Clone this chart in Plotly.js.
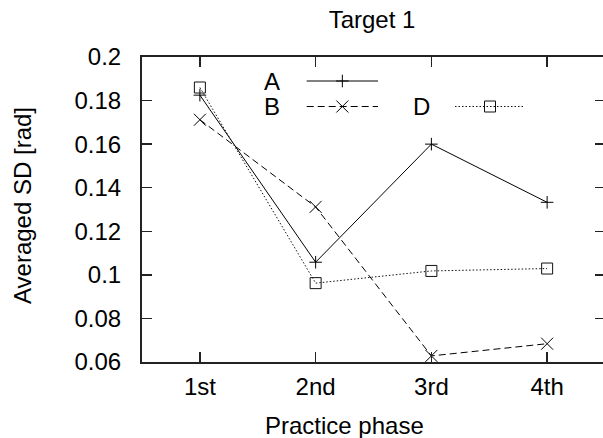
<!DOCTYPE html>
<html>
<head>
<meta charset="utf-8">
<script src="https://cdn.plot.ly/plotly-3.0.1.min.js"></script>
<style>html,body{margin:0;padding:0;background:#fff;overflow:hidden;}#chart{width:605px;height:438px;}</style>
</head>
<body>
<div id="chart"></div>
<script>
// Data
var phases = ["1st", "2nd", "3rd", "4th"];
var phaseIndex = [1, 2, 3, 4];
var seriesA = [0.1825, 0.1058, 0.1600, 0.1333];
var seriesB = [0.1712, 0.1312, 0.0628, 0.0684];
var seriesD = [0.1860, 0.0962, 0.1018, 0.1029];
var yTickVals = [0.06, 0.08, 0.1, 0.12, 0.14, 0.16, 0.18, 0.2];
var yTickText = ["0.06", "0.08", "0.1", "0.12", "0.14", "0.16", "0.18", "0.2"];
var seriesNames = ["A", "B", "D"];

var FONT = "Liberation Sans, Arial, Helvetica, sans-serif";
var PW = 463, PL = 142, PB = 362, PH = 305;
var styles = [
  {dash: "solid", symbol: "cross-thin-open", size: 9, color: "#000"},
  {dash: "7px,4px", symbol: "x-thin-open", size: 12, color: "#000"},
  {dash: "1.5px,2px", symbol: "square-open", size: 11, color: "#111"}
];
var allSeries = [seriesA, seriesB, seriesD];

var traces = allSeries.map(function (vals, i) {
  return {
    x: phaseIndex, y: vals, type: "scatter", mode: "lines+markers",
    name: seriesNames[i], showlegend: false, cliponaxis: false,
    line: {color: styles[i].color, width: 1, dash: styles[i].dash},
    marker: {symbol: styles[i].symbol, size: styles[i].size, color: styles[i].color,
             line: {color: styles[i].color, width: 1}}
  };
});

// manual gnuplot-style key (text left of sample), drawn on a hidden overlay axis
var keyPx = [
  {x0: 306.7, x1: 378, y: 81, lx: 281.5},
  {x0: 306.7, x1: 378, y: 106.5, lx: 281.5},
  {x0: 455, x1: 525, y: 106.5, lx: 432}
];
var annotations = [];
keyPx.forEach(function (k, i) {
  var x0 = (k.x0 - PL) / PW, x1 = (k.x1 - PL) / PW, y = (PB - k.y) / PH;
  traces.push({
    x: [x0, x1], y: [y, y], xaxis: "x2", yaxis: "y2", type: "scatter", mode: "lines",
    showlegend: false, hoverinfo: "skip",
    line: {color: styles[i].color, width: 1, dash: styles[i].dash}
  });
  traces.push({
    x: [(x0 + x1) / 2], y: [y], xaxis: "x2", yaxis: "y2", type: "scatter", mode: "markers",
    showlegend: false, hoverinfo: "skip",
    marker: {symbol: styles[i].symbol, size: styles[i].size, color: styles[i].color,
             line: {color: styles[i].color, width: 1}}
  });
  annotations.push({
    text: seriesNames[i], xref: "paper", yref: "paper", x: (k.lx - PL) / PW, y: y,
    xanchor: "right", yanchor: "middle", showarrow: false,
    font: {family: FONT, size: 24, color: "#000"}
  });
});

annotations.push({
  text: "Practice phase", xref: "paper", yref: "paper", x: (344 - PL) / PW, y: -63 / PH,
  xanchor: "center", yanchor: "middle", showarrow: false,
  font: {family: FONT, size: 24, color: "#000"}
});
annotations.push({
  text: "Averaged SD [rad]", xref: "paper", yref: "paper", x: (22 - PL) / PW, y: (PB - 205) / PH,
  xanchor: "center", yanchor: "middle", showarrow: false, textangle: -90,
  font: {family: FONT, size: 24, color: "#000"}
});

var axisCommon = {
  showline: true, mirror: "ticks", linecolor: "#222", linewidth: 2,
  ticks: "inside", ticklen: 10, tickwidth: 1.5, tickcolor: "#222",
  showgrid: false, zeroline: false,
  tickfont: {family: FONT, size: 24, color: "#000"}
};

var layout = {
  width: 605, height: 438,
  margin: {l: 142, r: 0, t: 57, b: 76, pad: 0},
  paper_bgcolor: "#fff", plot_bgcolor: "#fff",
  showlegend: false,
  title: {text: "Target 1", x: (372 - PL) / PW, xref: "paper", y: 1 - 20 / 438, yref: "container",
          xanchor: "center", yanchor: "middle", font: {family: FONT, size: 24, color: "#000"}},
  xaxis: Object.assign({}, axisCommon, {
    range: [0.5, 4.5], tickvals: phaseIndex, ticktext: phases, ticklabelstandoff: 2
  }),
  yaxis: Object.assign({}, axisCommon, {
    range: [0.06, 0.2], tickvals: yTickVals, ticktext: yTickText, ticklabelstandoff: 14
  }),
  xaxis2: {overlaying: "x", anchor: "y2", range: [0, 1], visible: false, fixedrange: true},
  yaxis2: {overlaying: "y", anchor: "x2", range: [0, 1], visible: false, fixedrange: true},
  annotations: annotations
};

Plotly.newPlot("chart", traces, layout, {staticPlot: true, displayModeBar: false});
</script>
</body>
</html>
